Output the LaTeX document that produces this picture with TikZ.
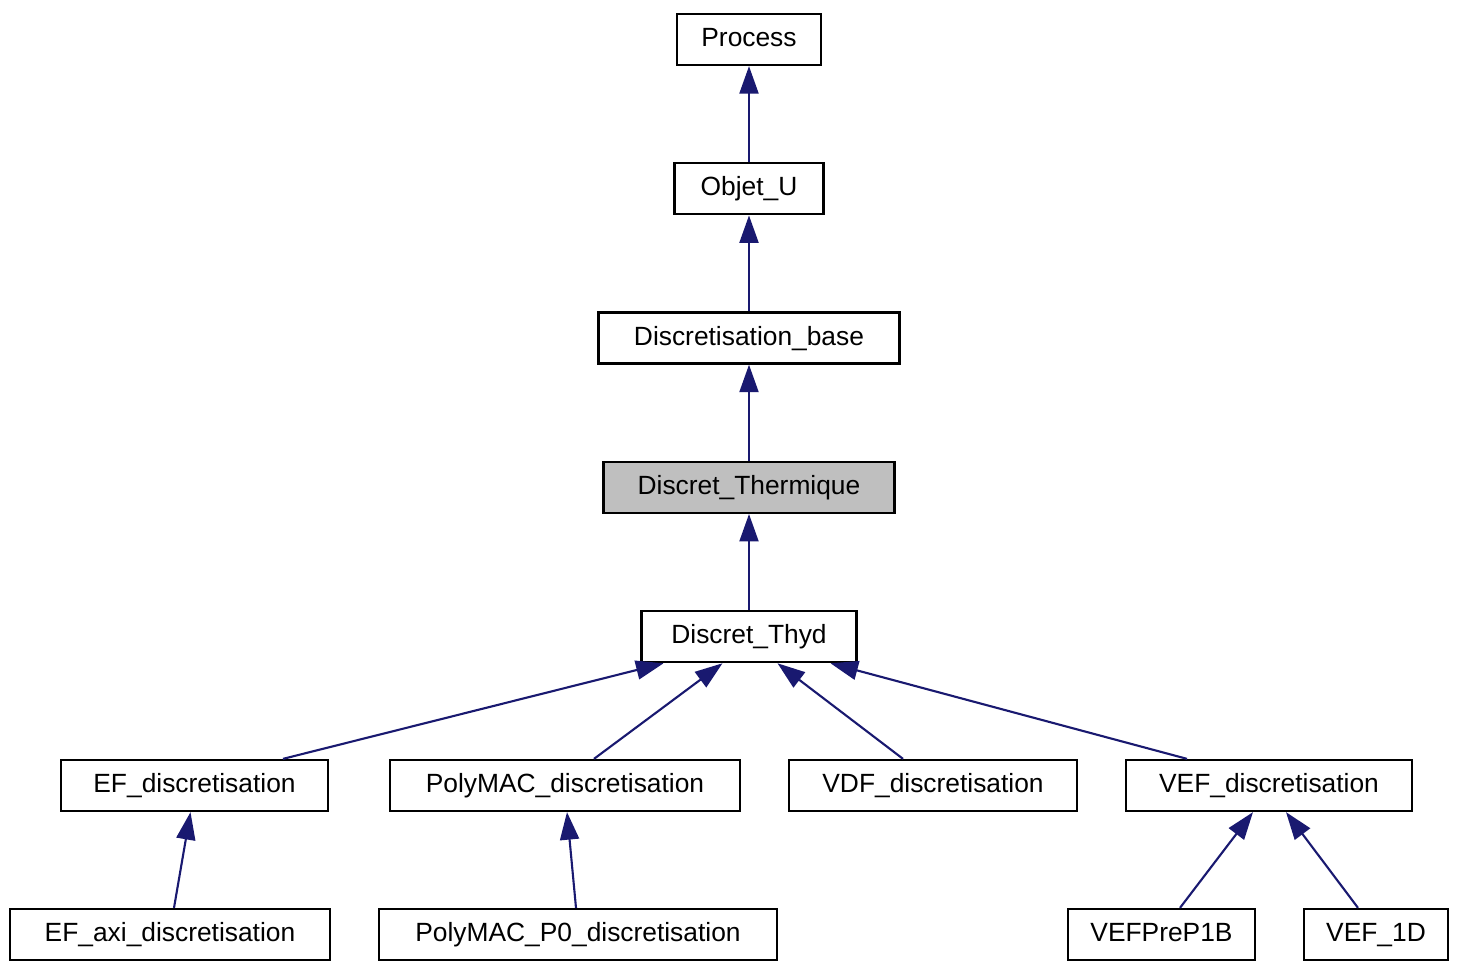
\documentclass[tikz,border=0pt]{standalone}
\usepackage{fontspec}
\setmainfont{Liberation Sans}
\usepackage{tikz}
\usetikzlibrary{positioning, arrows.meta, calc}
\definecolor{edgeblue}{RGB}{25,25,112}
\definecolor{hilite}{RGB}{191,191,191}
\tikzset{
  cls/.style={rectangle, minimum height=1.02cm, text height=11pt, text depth=3pt, text centered, draw=black, line width=1.3pt, fill=white, inner sep=0pt},
  current/.style={cls, fill=hilite},
  arrow/.style={draw=edgeblue, line width=1.2pt, -{Triangle[width=0.38cm,length=0.55cm]}, fill=edgeblue}
}

\begin{document}
\begin{tikzpicture}[node distance=1.92cm, every node/.style={font=\fontsize{15}{18}\selectfont}]
        \useasboundingbox (0,0) rectangle (29.2,-19.4);
        \node (process) [cls, minimum width=2.88cm] at (14.98,-0.79) {Process};
        \node (objetu) [cls, below=of process, minimum width=2.98cm] {Objet\_U};
        \node (discbase) [cls, below=of objetu, minimum width=6.02cm] {Discretisation\_base};
        \node (thermique) [current, below=of discbase, minimum width=5.82cm] {Discret\_Thermique};
        \node (thyd) [cls, below=of thermique, minimum width=4.30cm] {Discret\_Thyd};

        % niveau 2
        \node (ef) [cls, minimum width=5.34cm] at (3.89,-15.71) {EF\_discretisation};
        \node (polymac) [cls, minimum width=7.00cm] at (11.30,-15.71) {PolyMAC\_discretisation};
        \node (vdf) [cls, minimum width=5.76cm] at (18.66,-15.71) {VDF\_discretisation};
        \node (vef) [cls, minimum width=5.72cm] at (25.38,-15.71) {VEF\_discretisation};

        % niveau 3
        \node (efaxi) [cls, minimum width=6.40cm] at (3.40,-18.69) {EF\_axi\_discretisation};
        \node (polymacpz) [cls, minimum width=7.96cm] at (11.56,-18.69) {PolyMAC\_P0\_discretisation};
        \node (vefpre) [cls, minimum width=3.74cm] at (23.23,-18.69) {VEFPreP1B};
        \node (vefoned) [cls, minimum width=2.88cm] at (27.52,-18.69) {VEF\_1D};

        \draw [arrow] (objetu) -- (process);
        \draw [arrow] (discbase) -- (objetu);
        \draw [arrow] (thermique) -- (discbase);
        \draw [arrow] (thyd) -- (thermique);

        \draw [arrow] ([xshift=1.77cm]ef.north) -- ([xshift=-1.71cm]thyd.south);
        \draw [arrow] ([xshift=0.58cm]polymac.north) -- ([xshift=-0.53cm]thyd.south);
        \draw [arrow] ([xshift=-0.60cm]vdf.north) -- ([xshift=0.57cm]thyd.south);
        \draw [arrow] ([xshift=-1.64cm]vef.north) -- ([xshift=1.63cm]thyd.south);

        \draw [arrow] ([xshift=0.08cm]efaxi.north) -- ([xshift=-0.08cm]ef.south);
        \draw [arrow] ([xshift=-0.04cm]polymacpz.north) -- ([xshift=0.04cm]polymac.south);
        \draw [arrow] ([xshift=0.37cm]vefpre.north) -- ([xshift=-0.32cm]vef.south);
        \draw [arrow] ([xshift=-0.36cm]vefoned.north) -- ([xshift=0.34cm]vef.south);

    \end{tikzpicture}
\end{document}
